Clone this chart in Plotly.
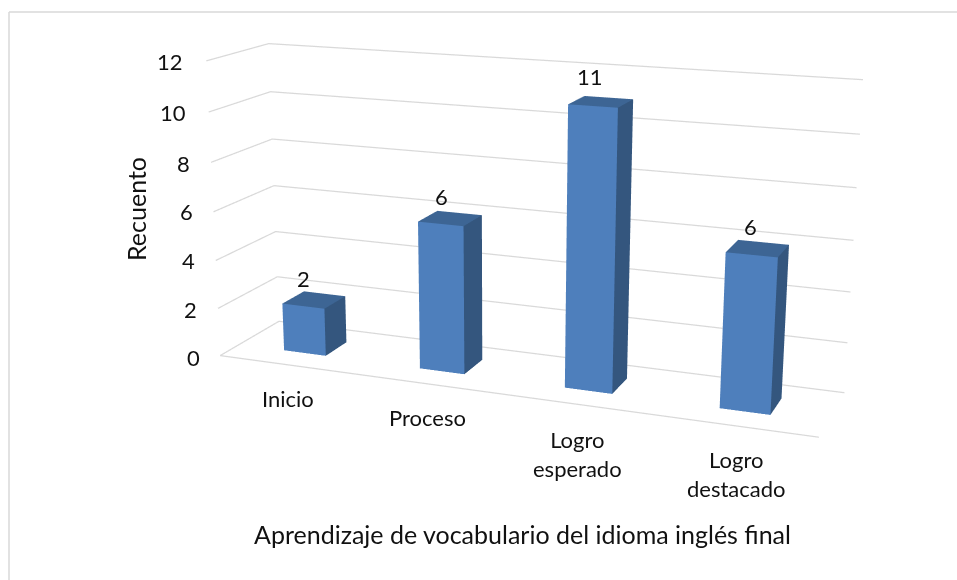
import numpy as np
import plotly.graph_objects as go

categories = ["Inicio", "Proceso", "Logro<br>esperado", "Logro<br>destacado"]
counts = [2, 6, 11, 6]
ticks = [0, 2, 4, 6, 8, 10, 12]

# view of the scene: a tall scene, lifted on the page, makes the 45-degree lens read as a long lens
PAGE_W, PAGE_H, FIG_H, LIFT = 957, 580, 1400, 432
DOMAIN_LEFT = 0.0401
eye = (0.9109, -2.4121, 0.6628)
center = (-0.0433, 0.0, -0.0739)
up = (0.0067, 0.0, 1.0)
aspect = (1.0, 0.2024, 0.4931)
half_width, y_front, y_back = 0.1568, 0.3133, 0.6921
FRONT, TOP, SIDE = "#4e7fbc", "#3d6594", "#34567e"
GRID = "#d9d9d9"
TEXT = "#111111"
FAMILY = "Lato"

# where text sits on the page (pixels)
tick_right = [202, 199, 197, 195, 191, 187, 184]
tick_mid = [359.5, 311.5, 262.5, 213.5, 165.5, 114.5, 63.5]
cat_mid = [289, 428, 578, 738]
cat_top = [384, 402, 423, 442]
label_pos = [(304, 280), (441, 197), (589, 76), (750, 225)]


def project(x, y, z):
    """Page pixel of a data point for the camera above."""
    e = np.array(eye)
    f = np.array(center) - e
    f = f / np.linalg.norm(f)
    r = np.cross(f, np.array(up))
    r = r / np.linalg.norm(r)
    u = np.cross(r, f)
    d = np.array([(x / 4 - .5) * aspect[0], (y - .5) * aspect[1], (z / 12 - .5) * aspect[2]]) - e
    F = FIG_H / 2 / np.tan(np.pi / 8)
    cx = PAGE_W * (1 + DOMAIN_LEFT) / 2
    cy = FIG_H / 2 - LIFT
    return cx + F * (d @ r) / (d @ f), cy - F * (d @ u) / (d @ f)


def label(x, y, z, text, px, py, xa, ya, size):
    qx, qy = project(x, y, z)
    return dict(x=x, y=y, z=z, text=text, showarrow=False, xanchor=xa, yanchor=ya,
                xshift=float(px - qx), yshift=float(qy - py),
                font=dict(family=FAMILY, size=size, color=TEXT))


def page_y(py):
    return 1 - (py + LIFT) / FIG_H


fig = go.Figure()
for t in ticks:
    fig.add_trace(go.Scatter3d(x=[0, 0, 4], y=[0, 1, 1], z=[t, t, t], mode="lines",
                               line=dict(color=GRID, width=2.5), hoverinfo="skip"))
fig.add_trace(go.Scatter3d(x=[0, 4], y=[0, 0], z=[0, 0], mode="lines",
                           line=dict(color=GRID, width=2.5), hoverinfo="skip"))
for i, v in enumerate(counts):
    x0, x1 = i + .5 - half_width, i + .5 + half_width
    fig.add_trace(go.Mesh3d(
        x=[x0, x1, x1, x0, x0, x1, x1, x0],
        y=[y_front, y_front, y_back, y_back, y_front, y_front, y_back, y_back],
        z=[0, 0, 0, 0, v, v, v, v],
        i=[0, 0, 1, 1, 4, 4], j=[1, 5, 2, 6, 5, 6], k=[5, 4, 6, 5, 6, 7],
        facecolor=[FRONT, FRONT, SIDE, SIDE, TOP, TOP], flatshading=True,
        lighting=dict(ambient=1, diffuse=0, specular=0, fresnel=0, roughness=1),
        hoverinfo="skip", showscale=False))

ann = []
for t, px, py in zip(ticks, tick_right, tick_mid):
    ann.append(label(0, 0, t, str(t), px, py, "right", "middle", 22))
for i, c in enumerate(categories):
    ann.append(label(i + .5, 0, 0, c, cat_mid[i], cat_top[i], "center", "top", 22))
for i, v in enumerate(counts):
    ann.append(label(i + .5, (y_front + y_back) / 2, v, str(v), label_pos[i][0], label_pos[i][1], "center", "middle", 22))

ax = dict(title="", showticklabels=False, ticks="", showgrid=False, zeroline=False,
          showbackground=False, showspikes=False, showline=False)
title_font = dict(family=FAMILY, size=25, color=TEXT)
fig.update_layout(
    width=PAGE_W, height=FIG_H, margin=dict(l=0, r=0, t=0, b=0), paper_bgcolor="white", showlegend=False,
    scene=dict(
        domain=dict(x=[DOMAIN_LEFT, 1], y=[0, 1]), aspectmode="manual",
        aspectratio=dict(x=aspect[0], y=aspect[1], z=aspect[2]),
        camera=dict(eye=dict(x=eye[0], y=eye[1], z=eye[2]),
                    center=dict(x=center[0], y=center[1], z=center[2]),
                    up=dict(x=up[0], y=up[1], z=up[2]),
                    projection=dict(type="perspective")),
        xaxis=dict(ax, range=[0, 4]),
        yaxis=dict(ax, range=[0, 1]),
        zaxis=dict(ax, range=[0, 12]),
        annotations=ann),
    annotations=[
        dict(xref="paper", yref="paper", x=136 / PAGE_W, y=page_y(209), xanchor="center", yanchor="middle",
             text="Recuento", textangle=-90, showarrow=False, font=title_font),
        dict(xref="paper", yref="paper", x=522 / PAGE_W, y=page_y(534), xanchor="center", yanchor="middle",
             text="Aprendizaje de vocabulario del idioma inglés final", showarrow=False, font=title_font)],
    shapes=[
        dict(type="line", xref="paper", yref="paper", x0=9 / PAGE_W, x1=1, y0=page_y(12), y1=page_y(12),
             line=dict(color=GRID, width=1.5)),
        dict(type="line", xref="paper", yref="paper", x0=9 / PAGE_W, x1=9 / PAGE_W, y0=page_y(PAGE_H), y1=page_y(12),
             line=dict(color=GRID, width=1.5))])
fig.write_html("out.html", config=dict(displayModeBar=False),
               post_script=f'document.body.style.margin="-{LIFT}px 0 0 0";document.body.style.overflow="hidden";document.documentElement.style.overflow="hidden";')
